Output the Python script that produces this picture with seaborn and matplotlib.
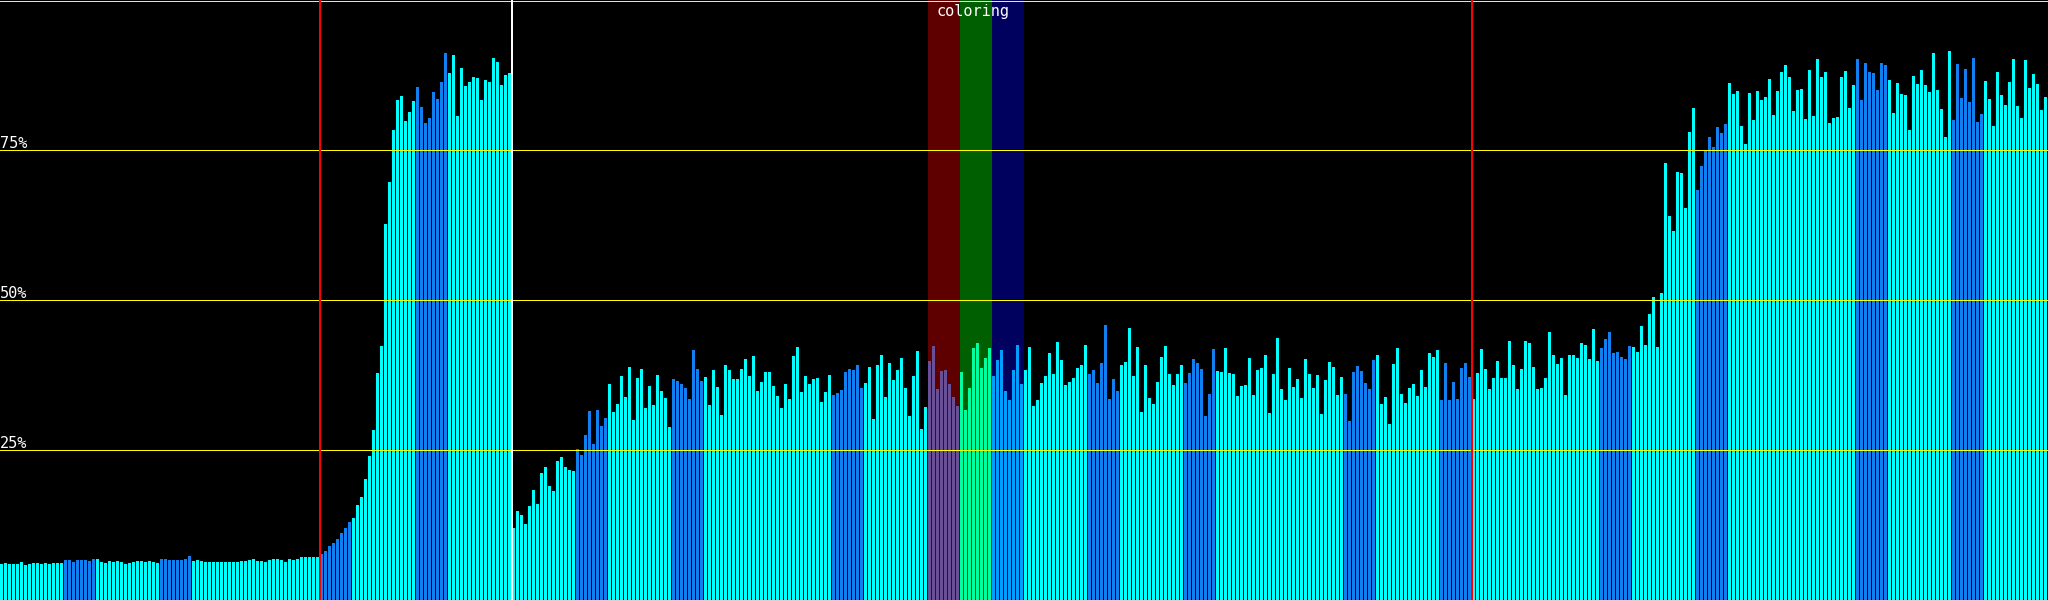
import matplotlib
matplotlib.use("Agg")
import matplotlib.pyplot as plt
import pandas as pd
import seaborn as sns

# ---- data (bar heights in percent), four consecutive segments of samples ----
seg_a = [6.0, 6.2, 6.0, 6.0, 6.0, 6.4, 5.9, 6.0, 6.2, 6.2, 6.0, 6.2, 6.0, 6.2, 6.2, 6.2,
         6.7, 6.7, 6.4, 6.7, 6.7, 6.7, 6.5, 6.9, 6.9, 6.4, 6.2, 6.5, 6.4, 6.5, 6.4, 6.0,
         6.2, 6.4, 6.5, 6.5, 6.4, 6.5, 6.4, 6.2, 6.9, 6.9, 6.7, 6.7, 6.7, 6.7, 6.9, 7.4,
         6.5, 6.7, 6.5, 6.4, 6.4, 6.4, 6.4, 6.4, 6.4, 6.4, 6.4, 6.4, 6.5, 6.5, 6.7, 6.9,
         6.5, 6.5, 6.4, 6.7, 6.9, 6.9, 6.7, 6.4, 6.9, 6.7, 6.9, 7.1, 7.2, 7.1, 7.2, 7.1,
         7.7, 8.2, 9.0, 9.5, 10.2, 11.1, 12.0, 13.0, 13.7, 15.8, 17.2, 20.2, 24.0, 28.4, 37.8, 42.4,
         62.6, 69.7, 78.4, 83.4, 84.0, 79.9, 81.4, 83.2, 85.5, 82.2, 79.5, 80.4, 84.6, 83.5, 86.4, 91.1,
         87.9, 90.9, 80.6, 88.7, 85.7, 86.4, 87.2, 87.0, 83.4, 86.7, 86.4, 90.4, 89.7, 85.9, 87.5, 87.9]
seg_b = [12.0, 14.8, 14.2, 12.7, 15.7, 18.3, 16.0, 21.2, 22.2, 19.0, 18.2, 23.2, 23.8, 22.2, 21.7, 21.5,
         25.2, 24.2, 27.5, 31.5, 26.0, 31.7, 29.0, 30.3, 36.0, 31.3, 32.7, 37.3, 33.8, 38.8, 30.0, 37.0,
         38.5, 32.0, 35.7, 32.5, 37.5, 34.8, 33.7, 28.8, 36.8, 36.5, 36.0, 35.3, 33.5, 41.7, 38.5, 36.5,
         37.2, 32.5, 38.3, 35.5, 30.8, 39.2, 38.3, 36.8, 36.8, 38.5, 40.2, 37.3, 40.7, 34.8, 36.3, 38.0,
         38.0, 35.7, 34.0, 32.0, 36.0, 33.5, 40.7, 42.2, 34.7, 37.3, 36.0, 36.8, 37.0, 33.0, 34.7, 37.5,
         34.2, 34.5, 35.0, 38.0, 38.5, 38.3, 39.2, 35.3, 36.2, 38.8, 30.2, 39.2, 40.8, 33.8, 39.5, 36.7,
         38.3, 40.3, 35.3, 30.7, 37.3, 41.5, 28.5, 32.2, 39.8, 42.3, 35.2, 38.2, 38.3, 36.0, 33.8, 32.3,
         38.0, 31.7, 35.3, 42.0, 42.8, 38.7, 40.3, 42.0, 37.3, 40.0, 41.7, 34.8, 33.3, 38.3, 42.5, 36.0]
seg_c = [38.3, 42.2, 32.3, 33.3, 36.2, 37.3, 41.2, 37.7, 43.0, 40.0, 35.8, 36.3, 37.0, 38.7, 39.2, 42.5,
         37.7, 38.3, 36.2, 39.5, 45.8, 33.5, 36.8, 34.8, 39.2, 39.7, 45.3, 37.3, 42.2, 31.3, 39.2, 33.7,
         32.7, 36.3, 40.5, 42.3, 37.7, 35.8, 37.7, 39.2, 36.2, 37.8, 40.2, 39.5, 38.5, 30.7, 34.3, 41.8,
         38.2, 38.0, 42.0, 37.8, 37.7, 34.0, 35.7, 35.8, 40.3, 34.2, 38.3, 38.7, 40.8, 31.2, 37.7, 43.7,
         35.2, 33.3, 38.7, 35.5, 36.8, 33.7, 40.2, 37.7, 35.3, 37.5, 31.0, 36.7, 39.7, 38.8, 34.2, 37.2,
         34.3, 29.8, 38.0, 39.0, 38.2, 36.2, 35.2, 40.0, 40.8, 32.7, 33.8, 29.3, 39.3, 42.0, 34.3, 32.8,
         35.3, 36.0, 34.0, 38.3, 35.5, 41.2, 40.5, 41.7, 33.3, 39.5, 33.3, 36.3, 33.5, 38.7, 39.5, 37.2,
         33.5, 37.8, 41.8, 38.5, 35.2, 37.0, 39.8, 37.0, 37.0, 43.2, 39.2, 35.2, 38.5, 43.2, 42.8, 38.8]
seg_d = [35.2, 35.3, 37.0, 44.7, 40.8, 39.3, 40.3, 34.2, 40.8, 40.8, 40.3, 42.8, 42.5, 40.2, 45.2, 39.8,
         42.0, 43.5, 44.7, 41.2, 41.3, 40.5, 40.2, 42.3, 42.2, 41.3, 45.7, 42.5, 47.7, 50.5, 42.2, 51.2,
         72.8, 64.0, 61.5, 71.3, 71.2, 65.3, 78.0, 82.0, 68.3, 72.3, 74.8, 77.2, 75.5, 78.8, 77.8, 79.3,
         86.2, 84.3, 84.8, 79.0, 76.0, 84.5, 80.0, 84.8, 83.3, 83.8, 86.8, 80.8, 84.8, 88.0, 89.2, 87.2,
         81.5, 85.0, 85.2, 80.2, 88.3, 80.7, 90.2, 87.2, 88.0, 79.5, 80.3, 80.5, 87.2, 88.2, 82.0, 85.8,
         90.2, 83.3, 89.5, 88.0, 87.8, 85.0, 89.5, 89.2, 86.7, 81.2, 86.2, 84.3, 84.2, 78.3, 87.3, 86.0,
         88.3, 85.8, 84.7, 91.2, 85.0, 81.8, 77.2, 91.5, 80.0, 89.3, 83.7, 88.5, 83.0, 90.3, 79.7, 81.0,
         86.5, 83.5, 79.0, 88.0, 84.2, 82.5, 86.3, 90.2, 82.3, 80.3, 90.0, 85.3, 87.7, 86.0, 81.7, 83.8]

# starts of the 8-sample blocks drawn in the darker blue
blue_block_starts = [16, 40, 80, 104, 144, 168, 208, 232, 272, 296, 336, 360, 400, 424, 464, 488]
block_len = 8

red_markers = [80, 368]
white_markers = [128]
bands = [(232, 240, "#ff0000"), (240, 248, "#00ff00"), (248, 256, "#0000ff")]
band_label = "coloring"
grid_levels = [25, 50, 75]
grid_labels = ["25%", "50%", "75%"]

# ---- build table ----
values = seg_a + seg_b + seg_c + seg_d
blue_set = set()
for s in blue_block_starts:
    blue_set.update(range(s, s + block_len))
df = pd.DataFrame({
    "idx": list(range(len(values))),
    "val": values,
    "grp": ["blue" if i in blue_set else "cyan" for i in range(len(values))],
})

# ---- draw ----
W, H, DPI = 2048, 600, 100
fig = plt.figure(figsize=(W / DPI, H / DPI), dpi=DPI, facecolor="black")
ax = fig.add_axes([0, 0, 1, 1])
ax.set_facecolor("black")

sns.barplot(data=df, x="idx", y="val", hue="grp",
            palette={"cyan": "#00ffff", "blue": "#1080f0"},
            dodge=False, width=0.75, saturation=1, errorbar=None,
            linewidth=0, edgecolor="none", antialiased=False,
            legend=False, ax=ax, zorder=2)

off = 0.375
n = len(values)
ax.set_xlim(-off, n - off)
ax.set_ylim(0, 100)
ax.axis("off")

px = 72 / DPI  # one pixel in points

for a, b, c in bands:
    ax.axvspan(a - off, b - off, color=c, alpha=0.375, lw=0, antialiased=False, zorder=3)

for lvl, lab in zip(grid_levels, grid_labels):
    ax.axhline(lvl, color="#ffff00", lw=1 * px, antialiased=False, zorder=4)
    ax.text(-off, lvl + 0.4, lab, color="white", ha="left", va="baseline",
            fontsize=11, family="DejaVu Sans Mono", zorder=6)
ax.axhline(100 - 0.5 / 6, color="#ffff00", lw=1 * px, antialiased=False, zorder=4)

for m in red_markers:
    ax.axvline(m - off, color="#ff0000", lw=2 * px, antialiased=False, zorder=5)
for m in white_markers:
    ax.axvline(m - off, color="#ffffff", lw=2 * px, antialiased=False, zorder=5)

ax.text((bands[0][0] + bands[-1][1]) / 2 - off - 0.7, 97.4, band_label, color="white",
        ha="center", va="baseline", fontsize=11, family="DejaVu Sans Mono", zorder=6)

fig.savefig("out.png", dpi=DPI, facecolor="black")
